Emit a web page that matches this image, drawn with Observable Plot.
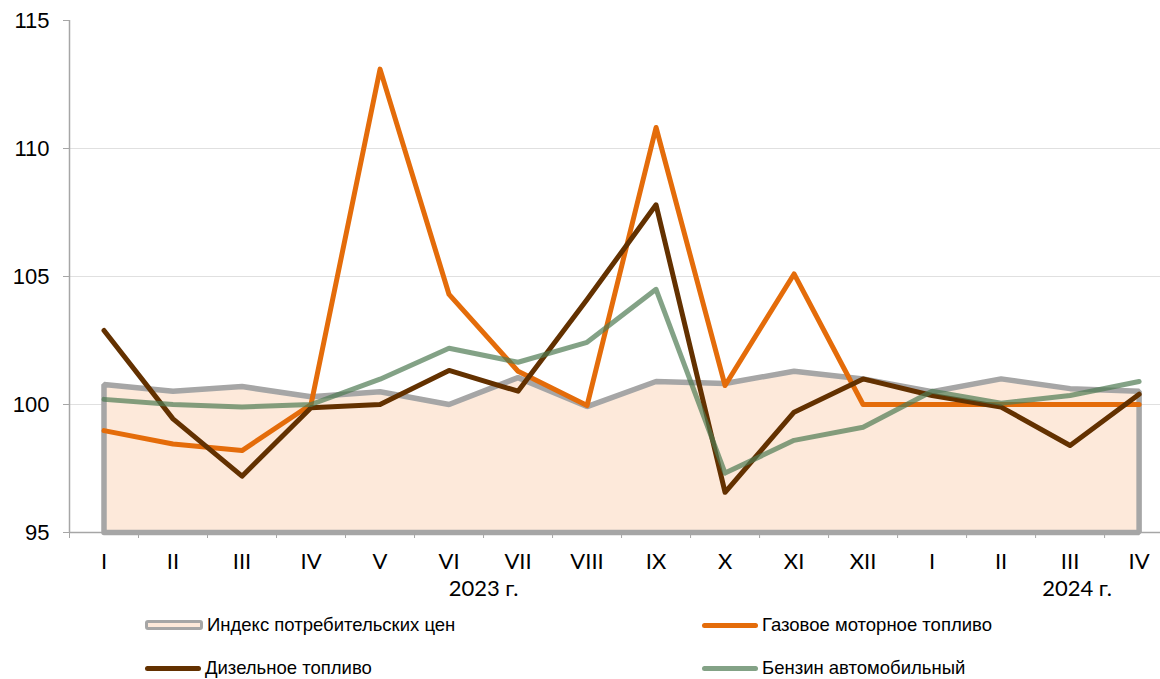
<!DOCTYPE html>
<html>
<head>
<meta charset="utf-8">
<script src="https://cdn.jsdelivr.net/npm/d3@7"></script>
<script src="https://cdn.jsdelivr.net/npm/@observablehq/plot@0.6"></script>
<style>
  html, body { margin: 0; padding: 0; background: #fff; overflow: hidden; }
  #wrap { position: relative; width: 1160px; height: 679px; }
  .leg { position: absolute; display: flex; align-items: center; font-family: "Liberation Sans", Arial, sans-serif; font-size: 18.5px; color: #000; }
</style>
</head>
<body>
<div id="wrap"></div>
<script>
const months = ["I","II","III","IV","V","VI","VII","VIII","IX","X","XI","XII","I","II","III","IV"];
const years = ["2023 г.", "2024 г."];
const yTicks = [95, 100, 105, 110, 115];
const seriesNames = ["Индекс потребительских цен", "Газовое моторное топливо", "Дизельное топливо", "Бензин автомобильный"];
const cpi    = [100.78,100.52,100.7,100.3,100.5,100.0,101.05,99.92,100.9,100.82,101.3,101.0,100.5,101.0,100.62,100.52];
const gas    = [98.98,98.46,98.2,100.0,113.1,104.3,101.3,99.96,110.82,100.74,105.1,100.0,100.0,100.0,100.0,100.0];
const diesel = [102.89,99.44,97.2,99.87,100.0,101.33,100.52,104.1,107.8,96.57,99.7,101.0,100.35,99.9,98.4,100.4];
const petrol = [100.2,100.0,99.9,100.0,100.99,102.2,101.65,102.43,104.5,97.32,98.6,99.11,100.52,100.05,100.35,100.9];

const idx = d3.range(months.length);
const base = yTicks[0];
const toPts = arr => arr.map((v, i) => ({i, v}));
const cpiPts = toPts(cpi);
const border = [{i: 0, v: base}, ...cpiPts, {i: idx.length - 1, v: base}, {i: 0, v: base}];
const bounds = d3.range(months.length + 1).map(i => i - 0.5);
const yearPos = [5.5, 14.1];

const axisFont = "Lato, 'Open Sans', sans-serif";
const axisGray = "#a6a6a6";

const chart = Plot.plot({
  width: 1160,
  height: 610,
  marginTop: 20,
  marginBottom: 78,
  marginLeft: 69,
  marginRight: 0,
  x: {type: "linear", domain: [-0.5, 15.31]},
  y: {domain: [95, 115]},
  style: {overflow: "hidden"},
  marks: [
    Plot.ruleY(yTicks.slice(1, -1), {stroke: "#e0e0e0", strokeWidth: 1}),
    Plot.areaY(cpiPts, {x: "i", y1: base, y2: "v", fill: "#fde9da"}),
    Plot.line(border, {x: "i", y: "v", stroke: "#a6a6a6", strokeWidth: 5.5, strokeLinejoin: "miter"}),
    Plot.ruleY([base], {stroke: axisGray, strokeWidth: 1.5}),
    Plot.ruleX([-0.5], {stroke: axisGray, strokeWidth: 1.5}),
    Plot.line(toPts(gas), {x: "i", y: "v", stroke: "#e46c0a", strokeWidth: 5}),
    Plot.line(toPts(diesel), {x: "i", y: "v", stroke: "#633100", strokeWidth: 5}),
    Plot.line(toPts(petrol), {x: "i", y: "v", stroke: "#4e7a52", strokeOpacity: 0.7, strokeWidth: 5}),
    Plot.axisY({ticks: yTicks, tickSize: 6, tickPadding: 14, stroke: axisGray, fontSize: 22, fontFamily: "'Liberation Sans', Arial, sans-serif", fill: "#000", tickFormat: d => d, label: null}),
    Plot.axisX({ticks: bounds, tickSize: 6, tickFormat: () => "", stroke: axisGray, label: null}),
    Plot.axisX({ticks: idx, tickSize: 0, tickPadding: 21, tickFormat: i => months[i], fontSize: 22, fontFamily: axisFont, fill: "#000", label: null}),
    Plot.axisX({ticks: yearPos, tickSize: 0, tickPadding: 48, tickFormat: (d, k) => years[k], fontSize: 22, fontFamily: axisFont, fill: "#000", label: null})
  ]
});
const wrap = document.getElementById("wrap");
wrap.appendChild(chart);

const legendItems = [
  {name: seriesNames[0], left: 145, top: 614, sw: "cpi"},
  {name: seriesNames[1], left: 702, top: 614, color: "#e46c0a"},
  {name: seriesNames[2], left: 145, top: 657, color: "#633100"},
  {name: seriesNames[3], left: 702, top: 657, color: "#83a286"}
];
for (const it of legendItems) {
  const d = document.createElement("div");
  d.className = "leg";
  d.style.left = it.left + "px";
  d.style.top = it.top + "px";
  d.style.height = "22px";
  const s = document.createElement("div");
  if (it.sw === "cpi") {
    s.style.cssText = "width:52px;height:4px;background:#fde9da;border:3px solid #a6a6a6;border-radius:3px;margin-right:4px;";
  } else {
    s.style.cssText = `width:56px;height:5px;background:${it.color};border-radius:3px;margin-right:4px;`;
  }
  d.appendChild(s);
  const t = document.createElement("span");
  t.textContent = it.name;
  d.appendChild(t);
  wrap.appendChild(d);
}
</script>
</body>
</html>
